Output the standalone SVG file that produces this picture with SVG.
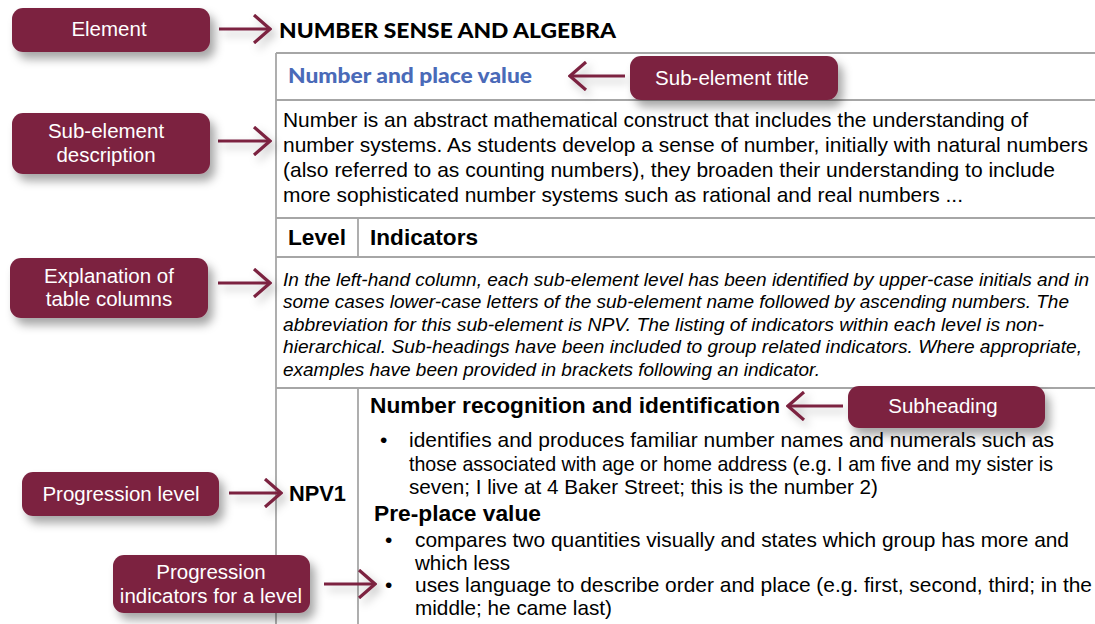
<svg xmlns="http://www.w3.org/2000/svg" width="1095" height="624" viewBox="0 0 1095 624">
<defs>
<filter id="sh" x="-20%" y="-30%" width="150%" height="180%">
<feDropShadow dx="5" dy="7" stdDeviation="5" flood-color="#000" flood-opacity="0.35"/>
</filter>
<filter id="ash" filterUnits="userSpaceOnUse" x="0" y="0" width="1095" height="624">
<feDropShadow dx="4" dy="5" stdDeviation="4" flood-color="#000" flood-opacity="0.25"/>
</filter>
<marker id="head" viewBox="0 0 20 30" refX="18" refY="15" markerWidth="20" markerHeight="30" markerUnits="userSpaceOnUse" orient="auto">
<path d="M2,1 L18,15 L2,29" fill="none" stroke="#7b2340" stroke-width="3.2"/>
</marker>
</defs>
<style>
.box{fill:#7b2340;filter:url(#sh)}
.lbl{font-family:"Liberation Sans",Arial,sans-serif;font-size:20.5px;fill:#fff;text-anchor:middle}
.arr{stroke:#7b2340;stroke-width:3.2;fill:none;marker-end:url(#head)}
.grid{stroke:#a6a6a6;stroke-width:1.8;fill:none}
.body{font-family:"Liberation Sans",Arial,sans-serif;font-size:21px;fill:#000}
.bold{font-family:"Liberation Sans",Arial,sans-serif;font-size:22.5px;font-weight:bold;fill:#000}
.ital{font-family:"Liberation Sans",Arial,sans-serif;font-size:19px;font-style:italic;fill:#000}
.lato{font-family:Lato,"Liberation Sans",sans-serif;font-weight:900;font-size:21.5px}
</style>
<g id="table">
<line class="grid" x1="276" y1="53" x2="1095" y2="53"/>
<line class="grid" x1="276" y1="100" x2="1095" y2="100"/>
<line class="grid" x1="276" y1="218" x2="1095" y2="218"/>
<line class="grid" x1="276" y1="257" x2="1095" y2="257"/>
<line class="grid" x1="276" y1="388" x2="1095" y2="388"/>
<line class="grid" x1="276" y1="53" x2="276" y2="624"/>
<line class="grid" x1="358" y1="218" x2="358" y2="257"/>
<line class="grid" x1="358" y1="388" x2="358" y2="624"/>
</g>
<g id="content">
<text class="lato" x="279" y="38" fill="#000" textLength="337" lengthAdjust="spacingAndGlyphs">NUMBER SENSE AND ALGEBRA</text>
<text class="lato" x="288" y="83" fill="#4a6ab8" textLength="244" lengthAdjust="spacingAndGlyphs">Number and place value</text>
<text class="body" x="283" y="127" textLength="745" lengthAdjust="spacingAndGlyphs">Number is an abstract mathematical construct that includes the understanding of</text>
<text class="body" x="283" y="152" textLength="805" lengthAdjust="spacingAndGlyphs">number systems. As students develop a sense of number, initially with natural numbers</text>
<text class="body" x="283" y="177" textLength="772" lengthAdjust="spacingAndGlyphs">(also referred to as counting numbers), they broaden their understanding to include</text>
<text class="body" x="283" y="202" textLength="680" lengthAdjust="spacingAndGlyphs">more sophisticated number systems such as rational and real numbers ...</text>
<text class="bold" x="288" y="245" textLength="58" lengthAdjust="spacingAndGlyphs">Level</text>
<text class="bold" x="370" y="245" textLength="108" lengthAdjust="spacingAndGlyphs">Indicators</text>
<text class="ital" x="283" y="286" textLength="806" lengthAdjust="spacingAndGlyphs">In the left-hand column, each sub-element level has been identified by upper-case initials and in</text>
<text class="ital" x="283" y="308" textLength="786" lengthAdjust="spacingAndGlyphs">some cases lower-case letters of the sub-element name followed by ascending numbers. The</text>
<text class="ital" x="283" y="331" textLength="761" lengthAdjust="spacingAndGlyphs">abbreviation for this sub-element is NPV. The listing of indicators within each level is non-</text>
<text class="ital" x="283" y="353" textLength="799" lengthAdjust="spacingAndGlyphs">hierarchical. Sub-headings have been included to group related indicators. Where appropriate,</text>
<text class="ital" x="283" y="376" textLength="537" lengthAdjust="spacingAndGlyphs">examples have been provided in brackets following an indicator.</text>
<text class="bold" x="370" y="413" textLength="410" lengthAdjust="spacingAndGlyphs">Number recognition and identification</text>
<text class="bold" x="289" y="501" textLength="57" lengthAdjust="spacingAndGlyphs">NPV1</text>
<text class="body" x="380" y="447">•</text>
<text class="body" x="409" y="447" textLength="645" lengthAdjust="spacingAndGlyphs">identifies and produces familiar number names and numerals such as</text>
<text class="body" x="409" y="471" font-size="19.5" textLength="644" lengthAdjust="spacingAndGlyphs">those associated with age or home address (e.g. I am five and my sister is</text>
<text class="body" x="409" y="494" textLength="469" lengthAdjust="spacingAndGlyphs">seven; I live at 4 Baker Street; this is the number 2)</text>
<text class="bold" x="374" y="521" textLength="167" lengthAdjust="spacingAndGlyphs">Pre-place value</text>
<text class="body" x="385" y="547">•</text>
<text class="body" x="415" y="547" textLength="654" lengthAdjust="spacingAndGlyphs">compares two quantities visually and states which group has more and</text>
<text class="body" x="415" y="570" textLength="95" lengthAdjust="spacingAndGlyphs">which less</text>
<text class="body" x="385" y="592">•</text>
<text class="body" x="415" y="592" textLength="677" lengthAdjust="spacingAndGlyphs">uses language to describe order and place (e.g. first, second, third; in the</text>
<text class="body" x="415" y="615" textLength="197" lengthAdjust="spacingAndGlyphs">middle; he came last)</text>
</g>
<g id="connectors" filter="url(#ash)">
<line class="arr" x1="219" y1="29" x2="270" y2="29"/>
<line class="arr" x1="625" y1="76" x2="570" y2="76"/>
<line class="arr" x1="218" y1="141" x2="270" y2="141"/>
<line class="arr" x1="218" y1="283" x2="270" y2="283"/>
<line class="arr" x1="843" y1="406" x2="788" y2="406"/>
<line class="arr" x1="229" y1="493" x2="281" y2="493"/>
<line class="arr" x1="324" y1="584" x2="375" y2="584"/>
</g>
<g id="element">
<rect class="box" x="12" y="8" width="198" height="44" rx="11"/>
<text class="lbl" x="109" y="36">Element</text>
</g>
<g id="subelement-title">
<rect class="box" x="630" y="56" width="208" height="44" rx="11"/>
<text class="lbl" x="732" y="85">Sub-element title</text>
</g>
<g id="subelement-description">
<rect class="box" x="12" y="113" width="198" height="61" rx="11"/>
<text class="lbl" x="106" y="138">Sub-element</text>
<text class="lbl" x="106" y="162">description</text>
</g>
<g id="explanation">
<rect class="box" x="10" y="258" width="198" height="60" rx="11"/>
<text class="lbl" x="109" y="283">Explanation of</text>
<text class="lbl" x="109" y="306">table columns</text>
</g>
<g id="subheading">
<rect class="box" x="848" y="386" width="197" height="42" rx="11"/>
<text class="lbl" x="943" y="413">Subheading</text>
</g>
<g id="progression-level">
<rect class="box" x="22" y="472" width="197" height="44" rx="11"/>
<text class="lbl" x="121" y="501">Progression level</text>
</g>
<g id="progression-indicators">
<rect class="box" x="113" y="555" width="197" height="58" rx="11"/>
<text class="lbl" x="211" y="579">Progression</text>
<text class="lbl" x="211" y="603">indicators for a level</text>
</g>
</svg>
